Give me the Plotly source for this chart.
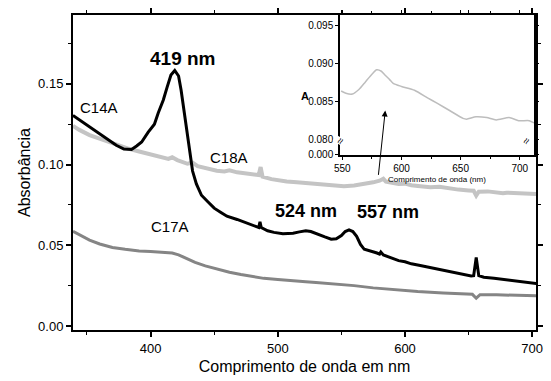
import plotly.graph_objects as go

# ---- data ----
c14a_wl = [339, 345, 352, 360, 367, 373, 379, 385, 389, 393, 398, 403, 406, 410, 413, 416, 419, 422, 424, 426, 428, 430, 433, 436, 440, 445, 450, 455, 460, 468, 475, 483, 485, 486, 487, 492, 497, 504, 512, 517, 522, 526, 531, 537, 542, 546, 550, 553, 556, 559, 562, 565, 568, 573, 578, 580, 581, 583, 590, 595, 600, 605, 612, 620, 628, 638, 646, 652, 654, 656, 658, 662, 670, 680, 690, 700, 704]
c14a_abs = [0.1305, 0.1272, 0.1234, 0.1195, 0.1152, 0.1120, 0.1096, 0.1094, 0.1115, 0.1140, 0.1200, 0.1250, 0.1320, 0.1400, 0.1480, 0.1555, 0.1583, 0.1549, 0.1460, 0.1350, 0.1230, 0.1120, 0.0960, 0.0880, 0.0810, 0.0770, 0.0730, 0.0705, 0.0680, 0.0660, 0.0640, 0.0615, 0.0610, 0.0645, 0.0610, 0.0590, 0.0580, 0.0572, 0.0575, 0.0583, 0.0590, 0.0585, 0.0572, 0.0552, 0.0538, 0.0540, 0.0560, 0.0585, 0.0595, 0.0585, 0.0555, 0.0505, 0.0475, 0.0465, 0.0452, 0.0445, 0.0458, 0.0440, 0.0420, 0.0405, 0.0398, 0.0385, 0.0375, 0.0362, 0.0345, 0.0330, 0.0318, 0.0310, 0.0312, 0.0425, 0.0312, 0.0302, 0.0295, 0.0285, 0.0275, 0.0265, 0.0262]

c18a_wl = [339, 344, 352, 360, 367, 375, 383, 391, 398, 406, 414, 417, 421, 429, 433, 437, 445, 452, 458, 462, 468, 475, 480, 485, 486.5, 488, 495, 500, 507, 515, 523, 530, 538, 546, 552, 560, 568, 575, 580, 583, 585, 590, 595, 600, 605, 612, 620, 627, 634, 642, 650, 654, 656, 658, 665, 672, 677, 680, 690, 700, 704]
c18a_abs = [0.1240, 0.1215, 0.1183, 0.1160, 0.1138, 0.1116, 0.1098, 0.1081, 0.1068, 0.1055, 0.1035, 0.1045, 0.1028, 0.1005, 0.1012, 0.0990, 0.0975, 0.0962, 0.0958, 0.0965, 0.0952, 0.0945, 0.0938, 0.0935, 0.0985, 0.0925, 0.0910, 0.0902, 0.0895, 0.0890, 0.0885, 0.0878, 0.0873, 0.0868, 0.0866, 0.0870, 0.0878, 0.0890, 0.0900, 0.0912, 0.0895, 0.0890, 0.0880, 0.0882, 0.0872, 0.0866, 0.0860, 0.0862, 0.0852, 0.0845, 0.0840, 0.0838, 0.0808, 0.0832, 0.0834, 0.0828, 0.0822, 0.0826, 0.0823, 0.0819, 0.0818]

c17a_wl = [339, 345, 352, 360, 370, 380, 391, 400, 411, 417, 422, 428, 435, 443, 453, 462, 471, 480, 489, 500, 510, 522, 530, 543, 560, 575, 595, 610, 630, 647, 653, 656, 659, 672, 690, 704]
c17a_abs = [0.0587, 0.0560, 0.0532, 0.0508, 0.0486, 0.0475, 0.0465, 0.0462, 0.0457, 0.0452, 0.0441, 0.0418, 0.0394, 0.0372, 0.0350, 0.0333, 0.0319, 0.0306, 0.0295, 0.0288, 0.0280, 0.0274, 0.0270, 0.0262, 0.0250, 0.0236, 0.0222, 0.0213, 0.0204, 0.0197, 0.0196, 0.0172, 0.0194, 0.0193, 0.0190, 0.0187]

inset_wl = [549, 553, 558.5, 564, 569.5, 575, 579, 583, 586, 590, 593, 600, 611, 622, 630, 641, 652, 655, 663, 672, 680, 691, 699, 708, 712]
inset_abs = [0.0864, 0.0861, 0.0860, 0.0866, 0.0876, 0.0886, 0.0892, 0.0890, 0.0885, 0.0879, 0.0874, 0.0870, 0.0865, 0.0855, 0.0848, 0.0838, 0.0828, 0.0827, 0.0830, 0.0829, 0.0826, 0.0829, 0.0825, 0.0825, 0.0822]

main_yticks = [0.00, 0.05, 0.10, 0.15]
main_ytext = ["0.00", "0.05", "0.10", "0.15"]
main_xticks = [400, 500, 600, 700]
inset_xticks = [550, 600, 650, 700]
inset_yticks = [0.0781, 0.080, 0.085, 0.090, 0.095]
inset_ytext = ["0.000", "0.080", "0.085", "0.090", "0.095"]

FONT = "Liberation Sans, Arial, sans-serif"

fig = go.Figure()
fig.add_trace(go.Scatter(x=c18a_wl, y=c18a_abs, mode="lines",
                         line=dict(color="#c4c4c4", width=4), hoverinfo="skip"))
fig.add_trace(go.Scatter(x=c17a_wl, y=c17a_abs, mode="lines",
                         line=dict(color="#858585", width=3), hoverinfo="skip"))
fig.add_trace(go.Scatter(x=c14a_wl, y=c14a_abs, mode="lines",
                         line=dict(color="#000000", width=3), hoverinfo="skip"))
fig.add_trace(go.Scatter(x=inset_wl, y=inset_abs, mode="lines", xaxis="x2", yaxis="y2",
                         line=dict(color="#bdbdbd", width=1.5, shape="spline", smoothing=0.6),
                         hoverinfo="skip"))

axis_common = dict(showline=True, linecolor="black", mirror="allticks", ticks="outside",
                   showgrid=False, zeroline=False, tickcolor="black")

fig.update_layout(
    width=551, height=381,
    margin=dict(l=73, r=8, t=13, b=48),
    paper_bgcolor="white", plot_bgcolor="white",
    showlegend=False,
    font=dict(family=FONT, color="black"),
    xaxis=dict(**axis_common, range=[339, 703], tickvals=main_xticks, linewidth=2,
               ticklen=5, tickwidth=1.5, tickfont=dict(size=13),
               minor=dict(dtick=50, ticks="outside", ticklen=3, tickcolor="black", tickwidth=1),
               title=dict(text="Comprimento de onda em nm", font=dict(size=16), standoff=6)),
    yaxis=dict(**axis_common, range=[-0.0025, 0.1927], tickvals=main_yticks, ticktext=main_ytext,
               linewidth=2, ticklen=5, tickwidth=1.5, tickfont=dict(size=13),
               minor=dict(dtick=0.025, tick0=0, ticks="outside", ticklen=3, tickcolor="black", tickwidth=1),
               title=dict(text="Absorbância", font=dict(size=16), standoff=3)),
    xaxis2=dict(**axis_common, domain=[0.5766, 0.9957], anchor="y2", range=[548, 712],
                tickvals=inset_xticks, linewidth=1.5, ticklen=3, tickwidth=1,
                tickfont=dict(size=10),
                minor=dict(dtick=25, ticks="outside", ticklen=2, tickcolor="black"),
                title=dict(text="Comprimento de onda (nm)", font=dict(size=8), standoff=4)),
    yaxis2=dict(**axis_common, domain=[0.556, 1.0], anchor="x2", range=[0.0780, 0.0964],
                tickvals=inset_yticks, ticktext=inset_ytext, linewidth=1.5, ticklen=3,
                tickwidth=1, tickfont=dict(size=10)),
)

# white background for inset
fig.add_shape(type="rect", xref="paper", yref="paper", x0=0.5766, x1=0.9957, y0=0.556, y1=1.0,
              fillcolor="white", line=dict(width=0), layer="below")

# axis-break marks on the inset
for xp in [0.5766, 0.9957]:
    fig.add_annotation(xref="paper", yref="paper", x=xp, y=0.60, text="≈", showarrow=False,
                       font=dict(size=11, color="black"), textangle=-60, bgcolor="white",
                       borderpad=0)

labels = [
    ("419 nm", 424.8, 0.1659, 19, True),
    ("C14A", 359.7, 0.1354, 15, False),
    ("C18A", 462, 0.1043, 15, False),
    ("C17A", 415.5, 0.0616, 15, False),
    ("524 nm", 522.5, 0.0713, 18, True),
    ("557 nm", 586.8, 0.0707, 18, True),
]
for text, x, y, size, bold in labels:
    fig.add_annotation(x=x, y=y, xref="x", yref="y",
                       text=f"<b>{text}</b>" if bold else text, showarrow=False,
                       font=dict(size=size, color="black"))

fig.add_annotation(xref="paper", yref="paper", x=0.5, y=0.769, text="<b>A</b>", showarrow=False,
                   font=dict(size=11, color="black"))

# arrow from main C18A bump to inset
fig.add_annotation(x=584.5, y=0.1335, ax=579, ay=0.0927, xref="x", yref="y",
                   axref="x", ayref="y", text="", showarrow=True, arrowhead=2,
                   arrowsize=1.2, arrowwidth=1, arrowcolor="black")

fig.write_html("out.html", config={"displayModeBar": False},
               post_script="document.body.style.margin='0';document.body.style.overflow='hidden';")
